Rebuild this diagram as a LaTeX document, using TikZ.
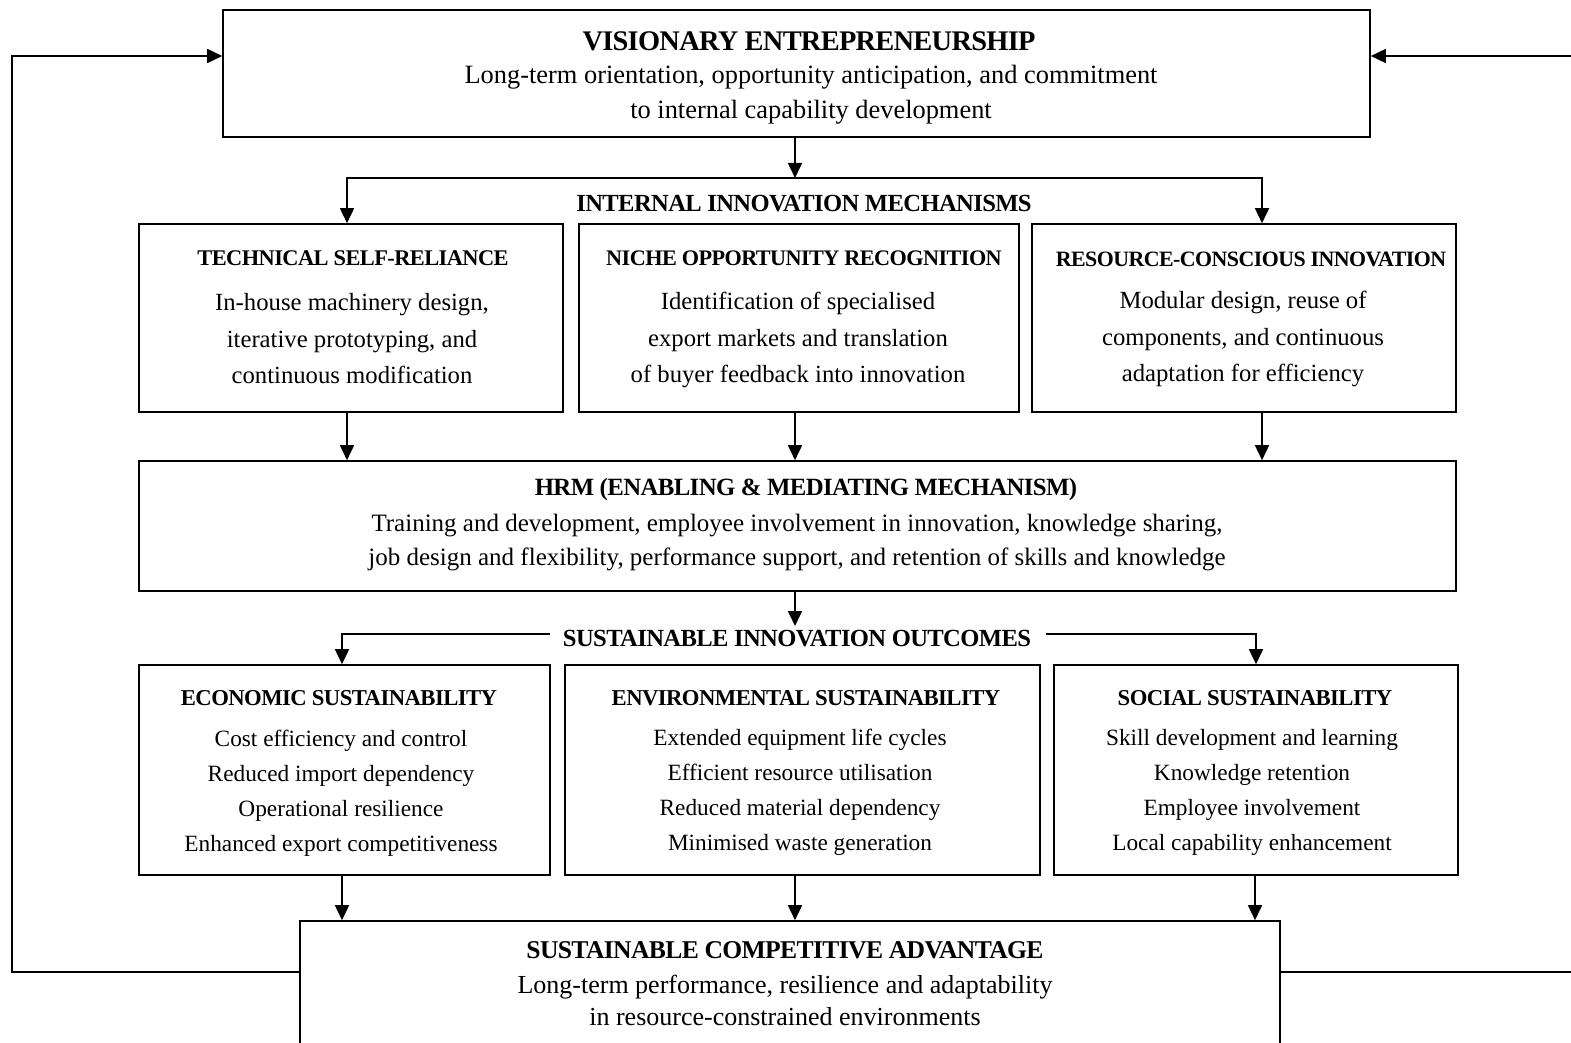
\documentclass[tikz,border=0pt]{standalone}
\usepackage{fontspec}
\setmainfont{Liberation Serif}
\newfontfamily\ttlfont[LetterSpace=-2.5]{Liberation Serif}
\usetikzlibrary{arrows.meta}
\begin{document}
\begin{tikzpicture}[x=1pt,y=-1pt,
  box/.style={draw, line width=1.6pt, inner sep=0pt, fill=white},
  ttl/.style={inner sep=0pt, font=\ttlfont\bfseries\fontsize{#1}{#1}\selectfont},
  bdy/.style 2 args={inner sep=0pt, align=center, font=\fontsize{#1}{#2}\selectfont},
  arr/.style={line width=1.6pt, -{Triangle[length=15pt,width=14pt]}},
  ln/.style={line width=1.6pt}]
\useasboundingbox (0,0) rectangle (1571,1043);
% boxes
\node[box, minimum width=1147, minimum height=127] (ve) at (796.5,73.5) {};
\node[box, minimum width=424, minimum height=188] (tsr) at (351,318) {};
\node[box, minimum width=440, minimum height=188] (nor) at (799,318) {};
\node[box, minimum width=424, minimum height=188] (rci) at (1244,318) {};
\node[box, minimum width=1317, minimum height=130] (hrm) at (797.5,526) {};
\node[box, minimum width=411, minimum height=210] (eco) at (344.5,770) {};
\node[box, minimum width=475, minimum height=210] (env) at (802.5,770) {};
\node[box, minimum width=404, minimum height=210] (soc) at (1256,770) {};
\node[box, minimum width=980, minimum height=130] (sca) at (790,986) {};
% texts
\node[ttl=28.4] (vet) at (809,41) {VISIONARY ENTREPRENEURSHIP};
\node[bdy={26.4}{35}] (veb) at (811,95) {Long-term orientation, opportunity anticipation, and commitment\\to internal capability development};
\node[ttl=24.6] (iim) at (804,204) {INTERNAL INNOVATION MECHANISMS};
\node[ttl=22.4] (tsrt) at (353,258) {TECHNICAL SELF-RELIANCE};
\node[bdy={24.7}{36.5}] (tsrb) at (352,339) {In-house machinery design,\\iterative prototyping, and\\continuous modification};
\node[ttl=22.2] (nort) at (804,258) {NICHE OPPORTUNITY RECOGNITION};
\node[bdy={24.7}{36.5}] (norb) at (798,340) {Identification of specialised\\export markets and translation\\of buyer feedback into innovation};
\node[ttl=21.9] (rcit) at (1251,259) {RESOURCE-CONSCIOUS INNOVATION};
\node[bdy={24.7}{36.5}] (rcib) at (1243,339) {Modular design, reuse of\\components, and continuous\\adaptation for efficiency};
\node[ttl=24.8] (hrmt) at (806,490) {HRM (ENABLING \& MEDIATING MECHANISM)};
\node[bdy={25}{34}] (hrmb) at (797,543) {Training and development, employee involvement in innovation, knowledge sharing,\\job design and flexibility, performance support, and retention of skills and knowledge};
\node[ttl=24.6] (sio) at (797,639) {SUSTAINABLE INNOVATION OUTCOMES};
\node[ttl=22.7] (ecot) at (339,698) {ECONOMIC SUSTAINABILITY};
\node[bdy={23.3}{35}] (ecob) at (341,793) {Cost efficiency and control\\Reduced import dependency\\Operational resilience\\Enhanced export competitiveness};
\node[ttl=22.7] (envt) at (806,698) {ENVIRONMENTAL SUSTAINABILITY};
\node[bdy={23.3}{35}] (envb) at (800,792.5) {Extended equipment life cycles\\Efficient resource utilisation\\Reduced material dependency\\Minimised waste generation};
\node[ttl=22.7] (soct) at (1255,698) {SOCIAL SUSTAINABILITY};
\node[bdy={23.3}{35}] (socb) at (1252,792.5) {Skill development and learning\\Knowledge retention\\Employee involvement\\Local capability enhancement};
\node[ttl=25.6] (scat) at (785,950.5) {SUSTAINABLE COMPETITIVE ADVANTAGE};
\node[bdy={26}{32}] (scab) at (785,1000) {Long-term performance, resilience and adaptability\\in resource-constrained environments};
% connectors
\coordinate (j1) at (795,178);
\draw[arr] (ve.south -| j1) -- (j1);
\draw[arr] (j1) -| (tsr.north -| 347,0);
\draw[arr] (j1) -| (rci.north -| 1262,0);
\draw[arr] (tsr.south -| 347,0) -- (hrm.north -| 347,0);
\draw[arr] (nor.south -| 795,0) -- (hrm.north -| 795,0);
\draw[arr] (rci.south -| 1262,0) -- (hrm.north -| 1262,0);
\coordinate (j2) at (795,626);
\draw[arr] (hrm.south -| j2) -- (j2);
\coordinate (l2) at (550,634);
\coordinate (r2) at (1046,634);
\draw[arr] (l2) -| (eco.north -| 342,0);
\draw[arr] (r2) -| (soc.north -| 1256,0);
\draw[arr] (eco.south -| 342,0) -- (sca.north -| 342,0);
\draw[arr] (env.south -| 795,0) -- (sca.north -| 795,0);
\draw[arr] (soc.south -| 1255,0) -- (sca.north -| 1255,0);
% feedback loops
\coordinate (fl) at (12,972);
\coordinate (fr) at (1575,972);
\draw[arr] (sca.west |- fl) -- (fl) |- (ve.west |- 0,56);
\draw[arr] (sca.east |- fr) -- (fr) |- (ve.east |- 0,56);
\end{tikzpicture}
\end{document}
